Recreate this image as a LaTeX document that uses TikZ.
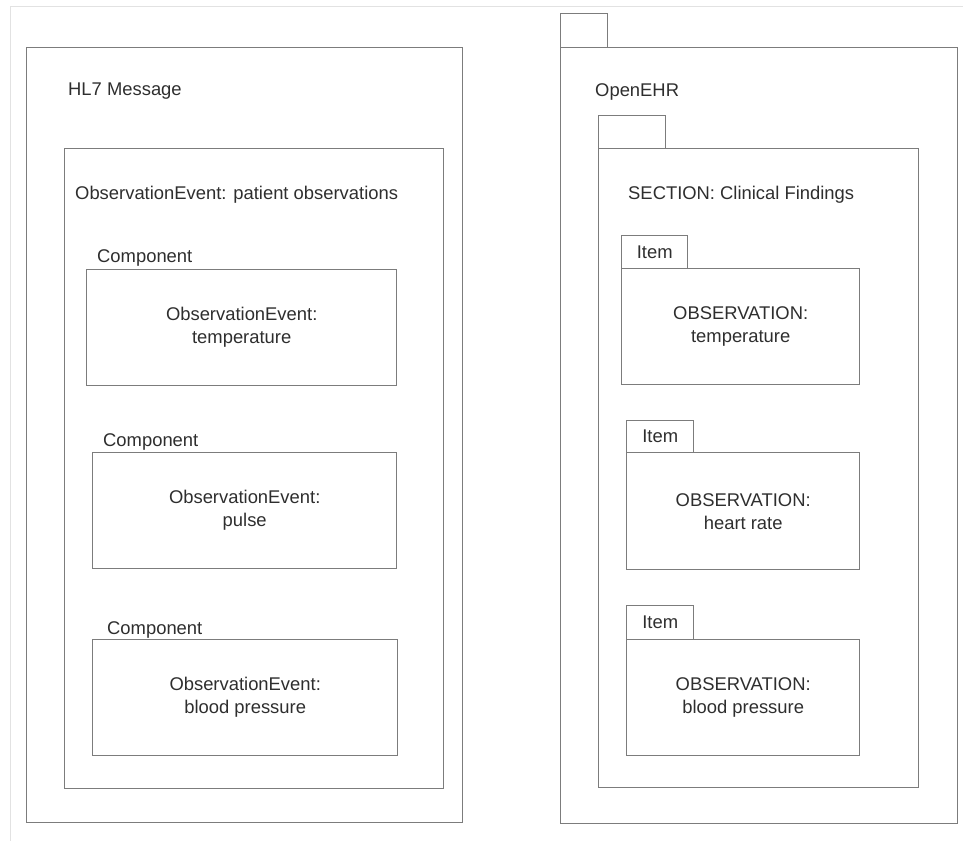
\documentclass[tikz,border=0pt]{standalone}
\usepackage{fontspec}
\setmainfont{Liberation Sans}
\definecolor{edge}{HTML}{7C7C7C}
\definecolor{ink}{HTML}{2E2E2E}
\definecolor{pageline}{HTML}{E2E2E2}
\begin{document}
\begin{tikzpicture}[x=1pt,y=-1pt,
  txt/.style={text=ink, font=\fontsize{18.4}{23}\selectfont},
  frame/.style={draw=edge, line width=1.4pt, inner sep=0pt, anchor=north west,
                txt, align=center},
  lbl/.style={txt, inner sep=0pt, anchor=west}]
\useasboundingbox (0,0) rectangle (963,841);

% faint page edge
\coordinate (pgA) at (10,841);
\coordinate (pgB) at (10,6);
\coordinate (pgC) at (963,6);
\draw[pageline, line width=1pt] (pgA) -- (pgB) -- (pgC);

% ---------------- HL7 message ----------------
\node[frame, minimum width=436pt, minimum height=775pt] (hl7) at (26,47) {};
\node[lbl] (hl7lbl) at (68,91) {HL7 Message};
\node[frame, minimum width=379pt, minimum height=640pt] (obs) at (64,148) {};
\node[lbl] (obslbl) at (75,195) {ObservationEvent: patient observations};

\node[lbl] (comp1) at (97,258) {Component};
\node[frame, minimum width=310pt, minimum height=116pt] (ev1) at (86,269)
  {ObservationEvent:\\temperature};

\node[lbl] (comp2) at (103,442) {Component};
\node[frame, minimum width=304pt, minimum height=116pt] (ev2) at (92,452)
  {ObservationEvent:\\pulse};

\node[lbl] (comp3) at (107,630) {Component};
\node[frame, minimum width=305pt, minimum height=116pt] (ev3) at (92,639)
  {ObservationEvent:\\blood pressure};

% ---------------- OpenEHR ----------------
\node[frame, minimum width=47pt, minimum height=34pt] (ehrtab) at (560,13) {};
\node[frame, minimum width=397pt, minimum height=776pt] (ehr) at (560,47) {};
\node[lbl] (ehrlbl) at (595,92) {OpenEHR};

\node[frame, minimum width=67pt, minimum height=33pt] (sectab) at (598,115) {};
\node[frame, minimum width=320pt, minimum height=639pt] (sec) at (598,148) {};
\node[lbl] (seclbl) at (628,195) {SECTION: Clinical Findings};

\node[frame, minimum width=66pt, minimum height=33pt] (it1) at (621,235) {Item};
\node[frame, minimum width=238pt, minimum height=116pt] (ob1) at (621,268)
  {OBSERVATION:\\temperature};

\node[frame, minimum width=67pt, minimum height=32pt] (it2) at (626,420) {Item};
\node[frame, minimum width=233pt, minimum height=117pt] (ob2) at (626,452)
  {OBSERVATION:\\heart rate};

\node[frame, minimum width=67pt, minimum height=34pt] (it3) at (626,605) {Item};
\node[frame, minimum width=233pt, minimum height=116pt] (ob3) at (626,639)
  {OBSERVATION:\\blood pressure};
\end{tikzpicture}
\end{document}
